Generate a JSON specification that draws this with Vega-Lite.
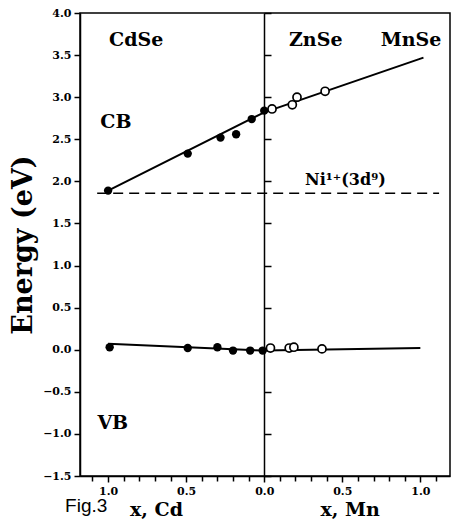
{
  "$schema": "https://vega.github.io/schema/vega-lite/v6.json",
  "width": 370,
  "height": 463,
  "autosize": "none",
  "padding": {"left": 80, "top": 13, "right": 3, "bottom": 46},
  "background": "white",
  "config": {
    "view": {"stroke": "black", "strokeWidth": 1.5},
    "font": "DejaVu Serif"
  },
  "datasets": {
    "lines": [
      {"band": "CB", "x": -1.0, "E": 1.89},
      {"band": "CB", "x": 0.0, "E": 2.82},
      {"band": "CB", "x": 1.02, "E": 3.47},
      {"band": "VB", "x": -1.0, "E": 0.07},
      {"band": "VB", "x": 0.0, "E": -0.01},
      {"band": "VB", "x": 1.0, "E": 0.02}
    ],
    "ni": [
      {"x": -1.07, "E": 1.86},
      {"x": 1.12, "E": 1.86}
    ],
    "filled": [
      {"band": "CB", "x": -1.0, "E": 1.89},
      {"band": "CB", "x": -0.49, "E": 2.33},
      {"band": "CB", "x": -0.28, "E": 2.52},
      {"band": "CB", "x": -0.18, "E": 2.56},
      {"band": "CB", "x": -0.08, "E": 2.74},
      {"band": "CB", "x": 0.0, "E": 2.84},
      {"band": "VB", "x": -0.99, "E": 0.03},
      {"band": "VB", "x": -0.49, "E": 0.02},
      {"band": "VB", "x": -0.30, "E": 0.03},
      {"band": "VB", "x": -0.20, "E": -0.01},
      {"band": "VB", "x": -0.09, "E": -0.01},
      {"band": "VB", "x": -0.01, "E": -0.01}
    ],
    "open": [
      {"band": "CB", "x": 0.05, "E": 2.86},
      {"band": "CB", "x": 0.18, "E": 2.91},
      {"band": "CB", "x": 0.21, "E": 3.0},
      {"band": "CB", "x": 0.39, "E": 3.07},
      {"band": "VB", "x": 0.04, "E": 0.02},
      {"band": "VB", "x": 0.16, "E": 0.02},
      {"band": "VB", "x": 0.19, "E": 0.03},
      {"band": "VB", "x": 0.37, "E": 0.01}
    ],
    "big": [
      {"label": "CdSe", "x": -0.82, "E": 3.68},
      {"label": "ZnSe", "x": 0.33, "E": 3.68},
      {"label": "MnSe", "x": 0.94, "E": 3.68},
      {"label": "CB", "x": -0.95, "E": 2.71},
      {"label": "VB", "x": -0.97, "E": -0.87}
    ],
    "nilab": [
      {"label": "Ni¹⁺(3d⁹)", "x": 0.52, "E": 2.02}
    ],
    "xtitles": [
      {"label": "x,  Cd", "x": -0.69, "E": -1.9},
      {"label": "x,  Mn", "x": 0.55, "E": -1.9}
    ],
    "fig": [
      {"label": "Fig.3", "x": -1.14, "E": -1.86}
    ]
  },
  "layer": [
    {
      "data": {"name": "lines"},
      "mark": {"type": "line", "color": "black", "strokeWidth": 2},
      "encoding": {
        "x": {
          "field": "x", "type": "quantitative",
          "scale": {"domain": [-1.18, 1.19], "nice": false, "zero": false},
          "axis": {
            "title": null,
            "values": [-1.0, -0.5, 0, 0.5, 1.0],
            "labelExpr": "format(abs(datum.value), '.1f')",
            "labelFont": "DejaVu Serif", "labelFontWeight": "bold", "labelFontSize": 11,
            "labelColor": "black", "labelPadding": 3,
            "tickColor": "black", "tickSize": 6, "tickWidth": 1.5,
            "domainColor": "black", "domainWidth": 1.5,
            "grid": false
          }
        },
        "y": {
          "field": "E", "type": "quantitative",
          "scale": {"domain": [-1.5, 4.0], "nice": false, "zero": false},
          "axis": {
            "title": "Energy (eV)",
            "titleFont": "DejaVu Serif", "titleFontWeight": "bold", "titleFontSize": 27,
            "titleColor": "black", "titlePadding": 5,
            "values": [-1.5, -1.0, -0.5, 0, 0.5, 1.0, 1.5, 2.0, 2.5, 3.0, 3.5, 4.0],
            "format": ".1f",
            "labelFont": "DejaVu Serif", "labelFontWeight": "bold", "labelFontSize": 11,
            "labelColor": "black", "labelPadding": 3,
            "tickColor": "black", "tickSize": 6, "tickWidth": 1.5,
            "domainColor": "black", "domainWidth": 1.5,
            "grid": false
          }
        },
        "detail": {"field": "band"}
      }
    },
    {
      "data": {"name": "ni"},
      "mark": {"type": "line", "color": "black", "strokeWidth": 1.5, "strokeDash": [10, 6]},
      "encoding": {
        "x": {"field": "x", "type": "quantitative", "axis": null},
        "y": {"field": "E", "type": "quantitative", "axis": null}
      }
    },
    {
      "data": {"name": "filled"},
      "mark": {"type": "point", "shape": "circle", "filled": true, "color": "black", "size": 70, "opacity": 1},
      "encoding": {
        "x": {
          "field": "x", "type": "quantitative",
          "axis": {
            "orient": "top", "offset": -468, "title": null, "labels": false, "domain": false,
            "values": [-1.1, -0.9, -0.8, -0.7, -0.6, -0.4, -0.3, -0.2, -0.1, 0.1, 0.2, 0.3, 0.4, 0.6, 0.7, 0.8, 0.9, 1.1],
            "tickColor": "black", "tickSize": 5, "tickWidth": 1.5, "grid": false
          }
        },
        "y": {"field": "E", "type": "quantitative", "axis": null}
      }
    },
    {
      "data": {"name": "open"},
      "mark": {"type": "point", "shape": "circle", "filled": false, "color": "black", "fill": "white", "fillOpacity": 1, "size": 65, "strokeWidth": 1.7, "opacity": 1},
      "encoding": {
        "x": {"field": "x", "type": "quantitative", "axis": null},
        "y": {
          "field": "E", "type": "quantitative",
          "axis": {
            "orient": "right", "offset": -186, "title": null, "labels": false,
            "values": [-1.5, -1.0, -0.5, 0, 0.5, 1.0, 1.5, 2.0, 2.5, 3.0, 3.5, 4.0],
            "tickColor": "black", "tickSize": 7, "tickWidth": 1.5,
            "domainColor": "black", "domainWidth": 1.5,
            "grid": false
          }
        }
      }
    },
    {
      "data": {"name": "big"},
      "mark": {"type": "text", "font": "DejaVu Serif", "fontWeight": "bold", "fontSize": 19, "color": "black", "align": "center", "baseline": "middle"},
      "encoding": {
        "x": {"field": "x", "type": "quantitative", "axis": null},
        "y": {"field": "E", "type": "quantitative", "axis": null},
        "text": {"field": "label"}
      }
    },
    {
      "data": {"name": "nilab"},
      "mark": {"type": "text", "font": "DejaVu Serif", "fontWeight": "bold", "fontSize": 16, "color": "black", "align": "center", "baseline": "middle"},
      "encoding": {
        "x": {"field": "x", "type": "quantitative", "axis": null},
        "y": {"field": "E", "type": "quantitative", "axis": null},
        "text": {"field": "label"}
      }
    },
    {
      "data": {"name": "xtitles"},
      "mark": {"type": "text", "font": "DejaVu Serif", "fontWeight": "bold", "fontSize": 19, "color": "black", "align": "center", "baseline": "middle"},
      "encoding": {
        "x": {"field": "x", "type": "quantitative", "axis": null},
        "y": {"field": "E", "type": "quantitative", "axis": null},
        "text": {"field": "label"}
      }
    },
    {
      "data": {"name": "fig"},
      "mark": {"type": "text", "font": "Liberation Sans", "fontSize": 19, "color": "black", "align": "center", "baseline": "middle"},
      "encoding": {
        "x": {"field": "x", "type": "quantitative", "axis": null},
        "y": {"field": "E", "type": "quantitative", "axis": null},
        "text": {"field": "label"}
      }
    }
  ],
  "resolve": {"axis": {"x": "independent", "y": "independent"}}
}
